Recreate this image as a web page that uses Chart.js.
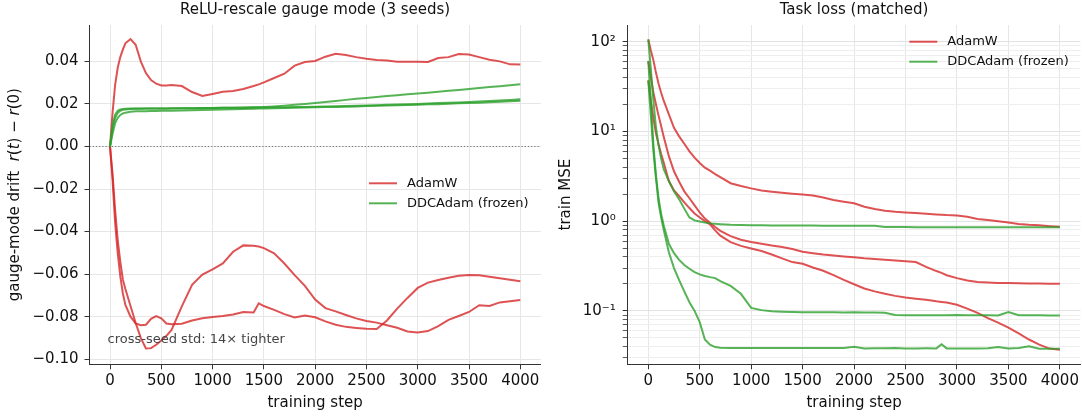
<!DOCTYPE html>
<html>
<head>
<meta charset="utf-8">
<script src="https://cdn.jsdelivr.net/npm/chart.js@4.4.1/dist/chart.umd.min.js"></script>
<style>
  body { margin: 0; background: #fff; }
  #wrap { position: relative; width: 1082px; height: 417px; }
  canvas { position: absolute; top: 0; }
  #gauge { left: 0; }
  #loss { left: 545px; }
</style>
</head>
<body>
<div id="wrap">
  <canvas id="gauge" width="545" height="417"></canvas>
  <canvas id="loss" width="537" height="417"></canvas>
</div>
<script>
// ---- gauge-mode drift r(t) - r(0), one array per seed ----
const gaugeSteps = [0, 25, 50, 75, 100, 125, 150, 200, 250, 300, 350, 400, 450, 500, 550, 600,
  700, 800, 900, 1000, 1100, 1200, 1300, 1400, 1450,
  1500, 1600, 1700, 1800, 1900, 2000, 2100, 2200, 2300, 2400, 2500, 2600, 2700, 2800, 2900,
  3000, 3100, 3200, 3300, 3400, 3500, 3600, 3700, 3800, 3900, 4000];

const gaugeAdamW0 = [0, 0.016, 0.029, 0.037, 0.042, 0.0455, 0.0485, 0.0505, 0.0478, 0.0400, 0.0345, 0.0312, 0.0295, 0.0287, 0.0287, 0.0289,
  0.0284, 0.0256, 0.0237, 0.0247, 0.0257, 0.0261, 0.0270, 0.0284, 0.0292,
  0.0301, 0.0322, 0.0342, 0.0380, 0.0397, 0.0402, 0.0422, 0.0436, 0.0430, 0.0420, 0.0412, 0.0406, 0.0404, 0.0398, 0.0398,
  0.0398, 0.0397, 0.0416, 0.0420, 0.0435, 0.0432, 0.0420, 0.0408, 0.0400, 0.0386, 0.0385];
const gaugeAdamW1 = [0, -0.013, -0.030, -0.044, -0.054, -0.0625, -0.067, -0.075, -0.083, -0.090, -0.0950, -0.0948, -0.0932, -0.0912, -0.0890, -0.0862,
  -0.0752, -0.0650, -0.0602, -0.0578, -0.0550, -0.0495, -0.0465, -0.0467, -0.0470,
  -0.0478, -0.0502, -0.0550, -0.0605, -0.0655, -0.0720, -0.0760, -0.0775, -0.0792, -0.0808, -0.0820, -0.0828, -0.0840, -0.0852, -0.0870,
  -0.0874, -0.0868, -0.0845, -0.0815, -0.0797, -0.0778, -0.0746, -0.0750, -0.0733, -0.0728, -0.0722];
const gaugeAdamW2 = [0, -0.016, -0.036, -0.050, -0.061, -0.069, -0.0745, -0.080, -0.0832, -0.0840, -0.0838, -0.0810, -0.0797, -0.0808, -0.0832, -0.0836,
  -0.0833, -0.0818, -0.0808, -0.0802, -0.0797, -0.0790, -0.0778, -0.0780, -0.0737,
  -0.0750, -0.0768, -0.0788, -0.0804, -0.0795, -0.0803, -0.0822, -0.0838, -0.0848, -0.0853, -0.0857, -0.0858, -0.0818, -0.0762, -0.0712,
  -0.0665, -0.0640, -0.0628, -0.0617, -0.0608, -0.0604, -0.0605, -0.0612, -0.0620, -0.0627, -0.0634];

const gaugeDDC0 = [0, 0.0085, 0.0135, 0.0158, 0.0168, 0.0172, 0.0174, 0.0176, 0.0177, 0.0177, 0.0178, 0.0178, 0.0178, 0.0179, 0.0179, 0.0179,
  0.0180, 0.0180, 0.0181, 0.0181, 0.0182, 0.0182, 0.0183, 0.0184, 0.0184,
  0.0185, 0.0188, 0.0192, 0.0196, 0.0200, 0.0204, 0.0209, 0.0214, 0.0219, 0.0224, 0.0228, 0.0233, 0.0237, 0.0241, 0.0245,
  0.0249, 0.0253, 0.0257, 0.0262, 0.0266, 0.0270, 0.0275, 0.0279, 0.0283, 0.0288, 0.0292];
const gaugeDDC1 = [0, 0.010, 0.0150, 0.0168, 0.0174, 0.0176, 0.0177, 0.0178, 0.0178, 0.0178, 0.0178, 0.0179, 0.0179, 0.0179, 0.0179, 0.0180,
  0.0180, 0.0180, 0.0181, 0.0181, 0.0182, 0.0182, 0.0182, 0.0183, 0.0183,
  0.0183, 0.0184, 0.0184, 0.0185, 0.0186, 0.0187, 0.0188, 0.0189, 0.0190, 0.0191, 0.0193, 0.0194, 0.0196, 0.0197, 0.0199,
  0.0200, 0.0202, 0.0204, 0.0205, 0.0207, 0.0209, 0.0211, 0.0214, 0.0216, 0.0219, 0.0222];
const gaugeDDC2 = [0, 0.006, 0.0110, 0.0135, 0.0148, 0.0155, 0.0159, 0.0163, 0.0165, 0.0166, 0.0166, 0.0167, 0.0167, 0.0168, 0.0168, 0.0168,
  0.0169, 0.0170, 0.0171, 0.0173, 0.0174, 0.0175, 0.0176, 0.0177, 0.0178,
  0.0179, 0.0180, 0.0181, 0.0182, 0.0183, 0.0184, 0.0185, 0.0186, 0.0187, 0.0188, 0.0190, 0.0191, 0.0192, 0.0194, 0.0195,
  0.0196, 0.0198, 0.0199, 0.0201, 0.0203, 0.0204, 0.0206, 0.0208, 0.0210, 0.0213, 0.0215];

// ---- train MSE, one array per seed ----
const lossSteps = [0, 25, 50, 75, 100, 125, 150, 200, 250, 300, 350, 400, 450, 500, 550, 600, 650, 700,
  800, 900, 1000, 1100, 1200, 1300, 1400, 1500, 1600, 1700, 1800, 1900, 2000, 2100, 2200, 2300, 2400, 2500, 2600, 2700, 2800,
  2850,
  2900, 3000, 3100, 3200, 3300, 3400, 3500, 3600, 3700, 3800, 3900, 4000];

const lossAdamW0 = [106, 80, 62, 45, 34, 27, 22, 15.5, 11, 8.8, 7.3, 6.0, 5.1, 4.45, 3.95, 3.65, 3.35, 3.1,
  2.65, 2.47, 2.32, 2.2, 2.13, 2.07, 2.02, 1.98, 1.93, 1.84, 1.72, 1.65, 1.58, 1.45, 1.37, 1.31, 1.27, 1.25, 1.23, 1.21, 1.19,
  1.18,
  1.17, 1.16, 1.12, 1.06, 1.03, 1.00, 0.965, 0.93, 0.91, 0.90, 0.88, 0.865];
const lossAdamW1 = [61, 40, 27, 20, 15, 11.5, 8.7, 5.3, 3.6, 2.75, 2.15, 1.8, 1.5, 1.25, 1.07, 0.96, 0.86, 0.78,
  0.68, 0.62, 0.585, 0.56, 0.535, 0.515, 0.49, 0.456, 0.44, 0.425, 0.415, 0.405, 0.395, 0.385, 0.378, 0.372, 0.365, 0.358, 0.35, 0.31, 0.278,
  0.265,
  0.25, 0.232, 0.218, 0.21, 0.207, 0.205, 0.204, 0.203, 0.202, 0.202, 0.201, 0.201];
const lossAdamW2 = [37, 22, 14, 9.5, 7.2, 5.6, 4.5, 2.8, 2.2, 1.9, 1.62, 1.4, 1.22, 1.1, 1.0, 0.92, 0.79, 0.69,
  0.585, 0.53, 0.495, 0.465, 0.425, 0.385, 0.35, 0.335, 0.305, 0.28, 0.25, 0.222, 0.198, 0.178, 0.165, 0.155, 0.147, 0.141, 0.137, 0.133, 0.128,
  0.126,
  0.124, 0.117, 0.106, 0.095, 0.083, 0.074, 0.065, 0.056, 0.048, 0.042, 0.038, 0.037];

const lossDDC0 = [106, 50, 22, 11, 7, 5.0, 3.8, 2.8, 2.15, 1.75, 1.38, 1.1, 1.02, 0.99, 0.965, 0.945, 0.935, 0.925,
  0.91, 0.905, 0.90, 0.898, 0.896, 0.895, 0.895, 0.894, 0.893, 0.892, 0.892, 0.891, 0.890, 0.889, 0.888, 0.862, 0.860, 0.859, 0.858, 0.858, 0.857,
  0.857,
  0.857, 0.856, 0.856, 0.856, 0.855, 0.855, 0.855, 0.855, 0.855, 0.855, 0.855, 0.855];
const lossDDC1 = [61, 22, 7, 3.2, 1.8, 1.2, 0.9, 0.56, 0.44, 0.37, 0.325, 0.295, 0.27, 0.255, 0.245, 0.238, 0.232, 0.215,
  0.19, 0.155, 0.108, 0.102, 0.099, 0.098, 0.097, 0.0965, 0.0965, 0.0965, 0.0965, 0.0962, 0.0965, 0.0962, 0.096, 0.0955, 0.0898, 0.0895, 0.0893, 0.0895, 0.0892,
  0.0895,
  0.0893, 0.0898, 0.0893, 0.0895, 0.0893, 0.089, 0.097, 0.0893, 0.0893, 0.0897, 0.089, 0.0888];
const lossDDC2 = [37, 15, 6, 3, 1.6, 1.1, 0.8, 0.45, 0.30, 0.22, 0.165, 0.125, 0.1, 0.075, 0.048, 0.042, 0.0395, 0.0388,
  0.0385, 0.0385, 0.0385, 0.0385, 0.0385, 0.0385, 0.0386, 0.0385, 0.0387, 0.0385, 0.0386, 0.0386, 0.0398, 0.0382, 0.0384, 0.0384, 0.0385, 0.0382, 0.0382, 0.0383, 0.0382,
  0.0425,
  0.0382, 0.0382, 0.0382, 0.0382, 0.0384, 0.0395, 0.0382, 0.0386, 0.0403, 0.0378, 0.0378, 0.0378];

const stepTicks = [0, 500, 1000, 1500, 2000, 2500, 3000, 3500, 4000];
const driftTicks = [-0.10, -0.08, -0.06, -0.04, -0.02, 0, 0.02, 0.04];

const RED = 'rgba(214, 39, 40, 0.8)';
const GREEN = 'rgba(44, 160, 44, 0.8)';
const INK = '#111';
const FONT = '"DejaVu Sans", sans-serif';

Chart.defaults.font.family = FONT;
Chart.defaults.font.size = 15;
Chart.defaults.color = INK;

function series(steps, vals, color, order) {
  return {
    data: steps.map((s, i) => ({ x: s, y: vals[i] })),
    borderColor: color,
    borderWidth: 2,
    pointRadius: 0,
    tension: 0,
    fill: false,
    order: order
  };
}

function logTickValues(lo, hi) {
  const out = [];
  for (let e = -2; e <= 2; e++) {
    for (let m = 1; m <= 9; m++) {
      const v = m * Math.pow(10, e);
      if (v >= lo && v <= hi) out.push(v);
    }
  }
  return out;
}

function isDecade(v) {
  const e = Math.round(Math.log10(v));
  return Math.abs(v - Math.pow(10, e)) < 1e-9 * Math.pow(10, e);
}

const SUP = { '-': '\u207B', '0': '\u2070', '1': '\u00B9', '2': '\u00B2', '3': '\u00B3' };
function decadeLabel(v) {
  if (!isDecade(v)) return '';
  const e = Math.round(Math.log10(v));
  return '10' + String(e).split('').map(c => SUP[c]).join('');
}

function driftLabel(v) {
  if (Math.abs(v) < 1e-9) return '0.00';
  return (v < 0 ? '\u2212' : '') + Math.abs(v).toFixed(2);
}

// titles, legend, zero line and the footnote
const panelText = {
  id: 'panelText',
  beforeDatasetsDraw(chart, args, opts) {
    if (!opts.zeroLine) return;
    const { ctx, chartArea: a, scales: { y } } = chart;
    const py = Math.round(y.getPixelForValue(0)) + 0.5;
    ctx.save();
    ctx.strokeStyle = 'rgba(60, 60, 60, 0.85)';
    ctx.lineWidth = 0.8;
    ctx.setLineDash([1.2, 2]);
    ctx.beginPath();
    ctx.moveTo(a.left, py);
    ctx.lineTo(a.right, py);
    ctx.stroke();
    ctx.restore();
  },
  afterDraw(chart, args, opts) {
    const { ctx, chartArea: a } = chart;
    ctx.save();
    ctx.fillStyle = INK;
    ctx.font = '15px ' + FONT;
    ctx.textAlign = 'center';
    ctx.textBaseline = 'middle';
    ctx.fillText(opts.title, (a.left + a.right) / 2, 10);

    ctx.font = '13px ' + FONT;
    ctx.textAlign = 'left';
    [['AdamW', RED], ['DDCAdam (frozen)', GREEN]].forEach(([label, color], i) => {
      const y = opts.legendY[i];
      ctx.strokeStyle = color;
      ctx.lineWidth = 2;
      ctx.beginPath();
      ctx.moveTo(opts.legendX, y);
      ctx.lineTo(opts.legendX + 28, y);
      ctx.stroke();
      ctx.fillStyle = INK;
      ctx.fillText(label, opts.legendX + 38, y);
    });

    if (opts.note) {
      ctx.fillStyle = '#444';
      ctx.font = '13px ' + FONT;
      ctx.fillText(opts.note, a.left + 0.04 * (a.right - a.left), a.bottom - 0.072 * (a.bottom - a.top));
    }
    ctx.restore();
  }
};

// y label with the math part set in oblique
const driftAxisLabel = {
  id: 'driftAxisLabel',
  afterDraw(chart) {
    const { ctx, chartArea: a } = chart;
    const parts = [
      ['gauge-mode drift  ', ''], ['r', 'italic '], ['(', ''], ['t', 'italic '],
      [') \u2212 ', ''], ['r', 'italic '], ['(0)', '']
    ];
    ctx.save();
    ctx.translate(15.6, (a.top + a.bottom) / 2);
    ctx.rotate(-Math.PI / 2);
    ctx.fillStyle = INK;
    ctx.textBaseline = 'middle';
    ctx.textAlign = 'left';
    let total = 0;
    parts.forEach(([t, st]) => { ctx.font = st + '15px ' + FONT; total += ctx.measureText(t).width; });
    let x = -total / 2;
    parts.forEach(([t, st]) => {
      ctx.font = st + '15px ' + FONT;
      ctx.fillText(t, x, 0);
      x += ctx.measureText(t).width;
    });
    ctx.restore();
  }
};

const gridStyle = { color: '#e6e6e6', lineWidth: 1, tickColor: '#333', tickLength: 5 };
const borderStyle = { color: '#333', width: 1 };

function stepAxis() {
  return {
    type: 'linear',
    min: -200,
    max: 4200,
    afterBuildTicks: s => { s.ticks = stepTicks.map(v => ({ value: v })); },
    afterFit: s => { s.height = 52.7; },
    grid: gridStyle,
    border: borderStyle,
    ticks: { autoSkip: false, maxRotation: 0, padding: 3, callback: v => String(v) },
    title: { display: true, text: 'training step', padding: { top: 0, bottom: 5 } }
  };
}

new Chart(document.getElementById('gauge'), {
  type: 'line',
  data: {
    datasets: [
      series(gaugeSteps, gaugeAdamW0, RED, 1),
      series(gaugeSteps, gaugeAdamW1, RED, 1),
      series(gaugeSteps, gaugeAdamW2, RED, 1),
      series(gaugeSteps, gaugeDDC0, GREEN, 0),
      series(gaugeSteps, gaugeDDC1, GREEN, 0),
      series(gaugeSteps, gaugeDDC2, GREEN, 0)
    ]
  },
  options: {
    responsive: false,
    animation: false,
    devicePixelRatio: 1,
    layout: { padding: { top: 25, right: 4.2, left: 0, bottom: 0 } },
    plugins: {
      legend: { display: false },
      tooltip: { enabled: false },
      panelText: {
        title: 'ReLU-rescale gauge mode (3 seeds)',
        legendX: 369, legendY: [183.3, 203.3],
        note: 'cross-seed std: 14\u00D7 tighter',
        zeroLine: true
      }
    },
    scales: {
      x: stepAxis(),
      y: {
        type: 'linear',
        min: -0.1024,
        max: 0.0571,
        afterBuildTicks: s => { s.ticks = driftTicks.map(v => ({ value: v })); },
        afterFit: s => { s.width = 89.5; },
        grid: gridStyle,
        border: borderStyle,
        ticks: { autoSkip: false, padding: 6, callback: v => driftLabel(v) }
      }
    }
  },
  plugins: [panelText, driftAxisLabel]
});

new Chart(document.getElementById('loss'), {
  type: 'line',
  data: {
    datasets: [
      series(lossSteps, lossAdamW0, RED, 1),
      series(lossSteps, lossAdamW1, RED, 1),
      series(lossSteps, lossAdamW2, RED, 1),
      series(lossSteps, lossDDC0, GREEN, 0),
      series(lossSteps, lossDDC1, GREEN, 0),
      series(lossSteps, lossDDC2, GREEN, 0)
    ]
  },
  options: {
    responsive: false,
    animation: false,
    devicePixelRatio: 1,
    layout: { padding: { top: 25, right: 1.1, left: 0, bottom: 0 } },
    plugins: {
      legend: { display: false },
      tooltip: { enabled: false },
      panelText: {
        title: 'Task loss (matched)',
        legendX: 364.3, legendY: [41.7, 61.7]
      }
    },
    scales: {
      x: stepAxis(),
      y: {
        type: 'logarithmic',
        min: 0.0254,
        max: 153.6,
        afterBuildTicks: s => { s.ticks = logTickValues(0.0254, 153.6).map(v => ({ value: v, major: isDecade(v) })); },
        afterFit: s => { s.width = 82.7; },
        grid: {
          color: c => (c.tick && isDecade(c.tick.value)) ? '#e2e2e2' : '#eeeeee',
          lineWidth: 1,
          tickColor: '#333',
          tickLength: 5,
          tickWidth: c => (c.tick && isDecade(c.tick.value)) ? 1 : 0.8
        },
        border: borderStyle,
        ticks: { autoSkip: false, padding: 7, callback: v => decadeLabel(v) },
        title: { display: true, text: 'train MSE', padding: { top: 12.3, bottom: 0 } }
      }
    }
  },
  plugins: [panelText]
});
</script>
</body>
</html>
